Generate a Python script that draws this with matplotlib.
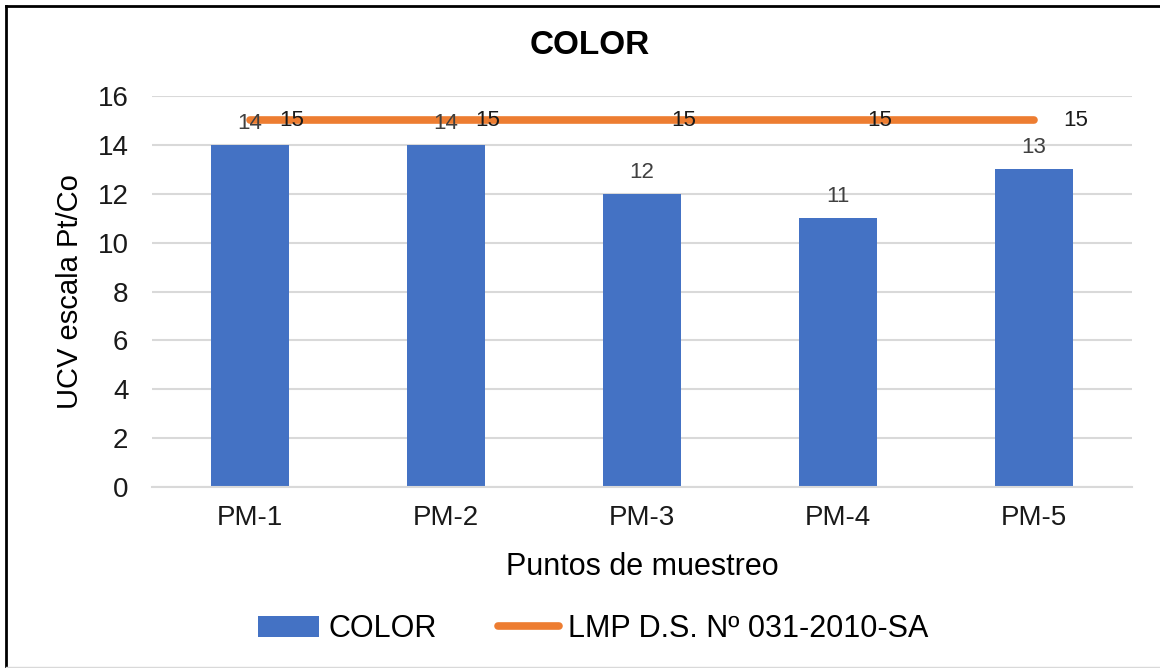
import matplotlib.pyplot as plt
from matplotlib.lines import Line2D

plt.rcParams['font.family'] = ['Liberation Sans', 'DejaVu Sans']

puntos = ['PM-1', 'PM-2', 'PM-3', 'PM-4', 'PM-5']
color = [14, 14, 12, 11, 13]
lmp = [15, 15, 15, 15, 15]

fig = plt.figure(figsize=(11.6, 6.68), dpi=100)
ax = fig.add_axes([152/1160, 181/668, 980/1160, 391/668])

x = range(len(puntos))
bars = ax.bar(x, color, width=0.4, color='#4472C4', label='COLOR', zorder=2)
line, = ax.plot(x, lmp, color='#ED7D31', lw=5.5, solid_capstyle='round',
                label='LMP D.S. Nº 031-2010-SA', zorder=3)

for xi, v in zip(x, color):
    ax.annotate(str(v), (xi, v), xytext=(0, 8), textcoords='offset points',
                ha='center', va='bottom', fontsize=16, color='#404040', zorder=4)
for xi, v in zip(x, lmp):
    ax.annotate(str(v), (xi, v), xytext=(21, 0), textcoords='offset points',
                ha='left', va='center', fontsize=16, color='#1a1a1a', zorder=4)

ax.set_xlim(-0.5, 4.5)
ax.set_ylim(0, 16)
ax.set_yticks(range(0, 17, 2))
ax.set_xticks(list(x))
ax.set_xticklabels(puntos)
ax.tick_params(length=0, labelsize=20, colors='#1a1a1a')
ax.tick_params(axis='y', pad=17)
ax.tick_params(axis='x', pad=13)
ax.grid(axis='y', color='#D9D9D9', lw=1.5, zorder=0)
for s in ['top', 'right', 'left']:
    ax.spines[s].set_visible(False)
ax.spines['bottom'].set_color('#D9D9D9')
ax.spines['bottom'].set_linewidth(1.5)

fig.text(590/1160, 1 - 46/668, 'COLOR', fontsize=24, fontweight='bold',
         ha='center', va='center')
ax.set_xlabel('Puntos de muestreo', fontsize=22, labelpad=15)
ax.set_ylabel('UCV escala Pt/Co', fontsize=21, labelpad=10)

fig.legend(handles=[bars, line], loc='center', bbox_to_anchor=(593/1160, 39/668),
           ncol=2, frameon=False, fontsize=22, handlelength=2.0,
           handletextpad=0.3, columnspacing=2.0)

# marco
fig.add_artist(Line2D([6/1160, 6/1160], [0, 1 - 6/668], color='black', lw=2,
                      transform=fig.transFigure))
fig.add_artist(Line2D([6/1160, 1], [1 - 6/668, 1 - 6/668], color='black', lw=2,
                      transform=fig.transFigure))
fig.add_artist(Line2D([6/1160, 1], [1/668, 1/668], color='#D9D9D9', lw=1,
                      transform=fig.transFigure))

fig.savefig('out.png', dpi=100)
